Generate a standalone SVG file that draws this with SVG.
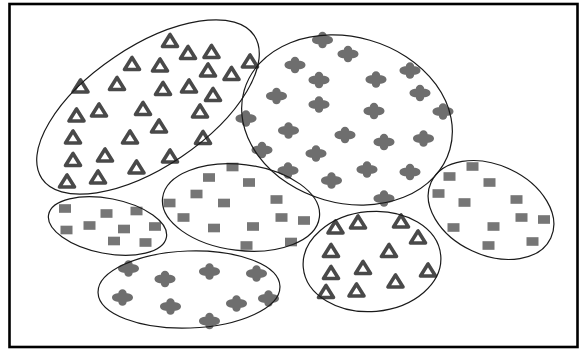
<svg xmlns="http://www.w3.org/2000/svg" xmlns:xlink="http://www.w3.org/1999/xlink" width="579" height="350" viewBox="0 0 579 350">
<style>
.ell{fill:none;stroke:#1a1a1a;stroke-width:1.2}
.tri{fill:none;stroke:#4a4a4a;stroke-width:3.6;stroke-linejoin:round}
.dia{fill:#6e6e6e}
.sq{fill:#767676}
.soft{filter:url(#blur)}
</style>
<defs>
<filter id="blur" x="-20%" y="-20%" width="140%" height="140%"><feGaussianBlur stdDeviation="0.7"/></filter>
<path id="t" class="tri" d="M-7.5,5.5 L7.5,5.5 L0,-6.5 Z"/>
<path id="d" class="dia" d="M-10.5,0 C-10.5,-3 -6.5,-4.2 -4.2,-4.2 C-4.2,-6.5 -2.2,-8.3 0,-8.3 C2.2,-8.3 4.2,-6.5 4.2,-4.2 C6.5,-4.2 10.5,-3 10.5,0 C10.5,3 6.5,4.2 4.2,4.2 C4.2,6.5 2.2,8.3 0,8.3 C-2.2,8.3 -4.2,6.5 -4.2,4.2 C-6.5,4.2 -10.5,3 -10.5,0 Z"/>
<rect id="s" class="sq" x="-6" y="-4.3" width="12" height="8.6"/>
</defs>
<rect x="0" y="0" width="579" height="350" fill="#ffffff"/>
<rect x="9.5" y="4" width="568" height="343" fill="none" stroke="#000" stroke-width="2.6"/>

<g id="cluster-triangles-large">
<g class="soft">
<use xlink:href="#t" x="170" y="41"/><use xlink:href="#t" x="188" y="53"/><use xlink:href="#t" x="211.5" y="52"/>
<use xlink:href="#t" x="132" y="64"/><use xlink:href="#t" x="160" y="65.5"/><use xlink:href="#t" x="208" y="70.5"/><use xlink:href="#t" x="231.5" y="74"/><use xlink:href="#t" x="250" y="61.5"/>
<use xlink:href="#t" x="80.5" y="86.5"/><use xlink:href="#t" x="117" y="84"/><use xlink:href="#t" x="163" y="89"/><use xlink:href="#t" x="189" y="86.5"/><use xlink:href="#t" x="213" y="95"/>
<use xlink:href="#t" x="76.5" y="115.5"/><use xlink:href="#t" x="99" y="110.5"/><use xlink:href="#t" x="143" y="109"/><use xlink:href="#t" x="200" y="111.5"/>
<use xlink:href="#t" x="159" y="126.5"/>
<use xlink:href="#t" x="73" y="137.5"/><use xlink:href="#t" x="130" y="137.5"/><use xlink:href="#t" x="203" y="138"/>
<use xlink:href="#t" x="73" y="160"/><use xlink:href="#t" x="105" y="155.5"/><use xlink:href="#t" x="170" y="156.5"/>
<use xlink:href="#t" x="136.5" y="167.5"/>
<use xlink:href="#t" x="67" y="181.5"/><use xlink:href="#t" x="98" y="177.5"/>
</g>
<ellipse class="ell" cx="148" cy="107" rx="128" ry="60" transform="rotate(-34 148 107)"/>
</g>

<g id="cluster-diamonds-large">
<g class="soft">
<use xlink:href="#d" x="322.5" y="40"/><use xlink:href="#d" x="348" y="54"/><use xlink:href="#d" x="295" y="65"/><use xlink:href="#d" x="319" y="80"/><use xlink:href="#d" x="376" y="79.5"/><use xlink:href="#d" x="410" y="70.5"/>
<use xlink:href="#d" x="276.5" y="96"/><use xlink:href="#d" x="319" y="104.5"/><use xlink:href="#d" x="420" y="93"/><use xlink:href="#d" x="374" y="111"/><use xlink:href="#d" x="443" y="111.5"/>
<use xlink:href="#d" x="246" y="118.5"/><use xlink:href="#d" x="288.5" y="130.5"/><use xlink:href="#d" x="345" y="135"/><use xlink:href="#d" x="384" y="142"/><use xlink:href="#d" x="423.5" y="138.5"/>
<use xlink:href="#d" x="262" y="150"/><use xlink:href="#d" x="316" y="153.5"/><use xlink:href="#d" x="288" y="170.5"/><use xlink:href="#d" x="367" y="169.5"/><use xlink:href="#d" x="410" y="172"/>
<use xlink:href="#d" x="331.5" y="180.5"/><use xlink:href="#d" x="384" y="198.5"/>
</g>
<ellipse class="ell" cx="347" cy="120" rx="107" ry="83" transform="rotate(16 347 120)"/>
</g>

<g id="cluster-squares-center">
<g class="soft">
<use xlink:href="#s" x="232.5" y="167"/><use xlink:href="#s" x="209" y="177.5"/><use xlink:href="#s" x="249" y="182.5"/><use xlink:href="#s" x="196.5" y="194"/>
<use xlink:href="#s" x="169.5" y="203"/><use xlink:href="#s" x="224" y="203"/><use xlink:href="#s" x="276.5" y="199.5"/>
<use xlink:href="#s" x="183.5" y="217.5"/><use xlink:href="#s" x="281.5" y="217.5"/><use xlink:href="#s" x="304" y="220.5"/>
<use xlink:href="#s" x="214" y="228"/><use xlink:href="#s" x="253" y="226.5"/><use xlink:href="#s" x="246.5" y="245.5"/><use xlink:href="#s" x="291" y="242"/>
</g>
<ellipse class="ell" cx="241" cy="207.5" rx="79" ry="43" transform="rotate(7 241 207.5)"/>
</g>

<g id="cluster-squares-left">
<g class="soft">
<use xlink:href="#s" x="65" y="208.5"/><use xlink:href="#s" x="106.5" y="213.5"/><use xlink:href="#s" x="136.5" y="211"/>
<use xlink:href="#s" x="66.5" y="230"/><use xlink:href="#s" x="89.5" y="225.5"/><use xlink:href="#s" x="124" y="229"/><use xlink:href="#s" x="155" y="226.5"/>
<use xlink:href="#s" x="114" y="241"/><use xlink:href="#s" x="145.5" y="242.5"/>
</g>
<ellipse class="ell" cx="107.5" cy="226" rx="60" ry="27.5" transform="rotate(11 107.5 226)"/>
</g>

<g id="cluster-diamonds-bottom">
<g class="soft">
<use xlink:href="#d" x="128.5" y="268.5"/><use xlink:href="#d" x="165" y="279"/><use xlink:href="#d" x="209.5" y="271.5"/><use xlink:href="#d" x="256.5" y="273.5"/>
<use xlink:href="#d" x="122.5" y="297.5"/><use xlink:href="#d" x="170.5" y="306.5"/><use xlink:href="#d" x="236.5" y="303.5"/><use xlink:href="#d" x="268.5" y="298.5"/>
<use xlink:href="#d" x="209.5" y="321"/>
</g>
<ellipse class="ell" cx="189" cy="289.5" rx="91" ry="38.5" transform="rotate(-2 189 289.5)"/>
</g>

<g id="cluster-triangles-small">
<g class="soft">
<use xlink:href="#t" x="335.5" y="227.5"/><use xlink:href="#t" x="358" y="222.5"/><use xlink:href="#t" x="401" y="221.5"/><use xlink:href="#t" x="418" y="237.5"/>
<use xlink:href="#t" x="331" y="251"/><use xlink:href="#t" x="389" y="251"/>
<use xlink:href="#t" x="331" y="273"/><use xlink:href="#t" x="363" y="268"/><use xlink:href="#t" x="428" y="270.5"/>
<use xlink:href="#t" x="395.5" y="281.5"/><use xlink:href="#t" x="326" y="292"/><use xlink:href="#t" x="356.5" y="290.5"/>
</g>
<ellipse class="ell" cx="372" cy="261.5" rx="69" ry="50" transform="rotate(-5 372 261.5)"/>
</g>

<g id="cluster-squares-right">
<g class="soft">
<use xlink:href="#s" x="472.5" y="166.5"/><use xlink:href="#s" x="449.5" y="176.5"/><use xlink:href="#s" x="489.5" y="182.5"/><use xlink:href="#s" x="438.5" y="193.5"/>
<use xlink:href="#s" x="464.5" y="202.5"/><use xlink:href="#s" x="516.5" y="199.5"/><use xlink:href="#s" x="521.5" y="217.5"/><use xlink:href="#s" x="544" y="219.5"/>
<use xlink:href="#s" x="453.5" y="227.5"/><use xlink:href="#s" x="493.5" y="226.5"/><use xlink:href="#s" x="488.5" y="245.5"/><use xlink:href="#s" x="532.5" y="241.5"/>
</g>
<ellipse class="ell" cx="491" cy="210" rx="66" ry="45" transform="rotate(25 491 210)"/>
</g>

<g id="connectors"/>
</svg>
